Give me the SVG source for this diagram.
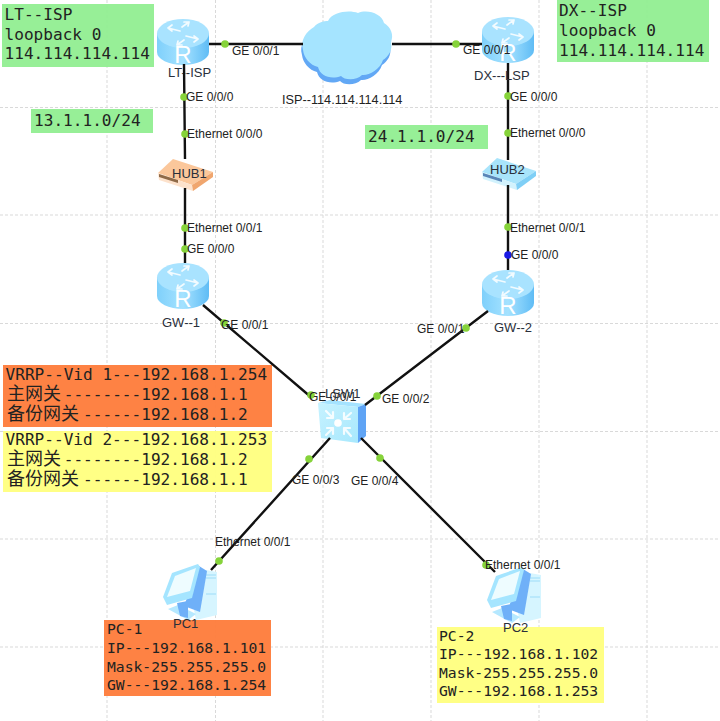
<svg xmlns="http://www.w3.org/2000/svg" xmlns:xlink="http://www.w3.org/1999/xlink" width="720" height="721" viewBox="0 0 720 721">
<style>
.grid{stroke:#d9d9d9;stroke-width:1;stroke-dasharray:3 2;fill:none}
.link{stroke:#111;stroke-width:2.4;fill:none}
.dot{fill:#86d33a}
.blue{fill:#1a1ae6}
.lbl{font-family:"Liberation Sans",Arial,sans-serif;font-size:12px;fill:#222}
.name{font-family:"Liberation Sans",Arial,sans-serif;font-size:13px;fill:#2a2f3a}
.mono{font-family:"DejaVu Sans Mono","Liberation Mono","Noto Sans CJK SC",monospace;font-size:16.1px;fill:#222}
.small{font-size:14.7px}
.cjk{font-family:"Noto Sans CJK SC","DejaVu Sans",sans-serif;font-size:18px}
.green{fill:#90ee90}
.orange{fill:#fe7d3c}
.yellow{fill:#ffff80}
.arrow{stroke:#fff;stroke-width:1.7;fill:none;stroke-linecap:round;stroke-linejoin:round;opacity:.85}
</style>
<defs>
<linearGradient id="side" x1="0" x2="1" y1="0" y2="0">
<stop offset="0" stop-color="#7fd0fb"/><stop offset=".5" stop-color="#a5e2ff"/><stop offset="1" stop-color="#5fbcf5"/>
</linearGradient>
<linearGradient id="face" x1="0" x2="1" y1="0" y2="1">
<stop offset="0" stop-color="#c6f2ff"/><stop offset="1" stop-color="#a8e8fd"/>
</linearGradient>
<g id="router">
<path d="M-26 14V33A26 13 0 0 0 26 33V14Z" fill="url(#side)"/>
<ellipse cx="0" cy="14.500" rx="26" ry="14.500" fill="#a9e3ff"/>
<path class="arrow" d="M-3 12L-15 9M-15 9L-11 6M-15 9L-11 12M3 17L15 20M15 20L11 17M15 20L11 23M-1 8L6 3M6 3L1 3M6 3L5 7M1 21L-6 26M-6 26L-1 26M-6 26L-5 22"/>
<text x="0" y="43.500" text-anchor="middle" font-family="Liberation Sans, sans-serif" font-size="24" fill="#fff">R</text>
</g>
<g id="pc">
<polygon points="200,569 217,572 217,615 196,620 192,600" fill="#d6f5ff"/>
<path d="M206 575H216M206 578H216M206 594H216" stroke="#9ddcf8" stroke-width="1" fill="none"/>
<polygon points="199,566 207,571 200,612 184,606" fill="#6fb0f8"/>
<polygon points="163,597 172,573 198,564 200,567 192,598 167,605" fill="#a5e5ff"/>
<polygon points="167,597 175,576 196,568 190,591" fill="#eefcff"/>
<polygon points="168,609 178,605 196,614 188,620" fill="#b5e8ff"/>
<polygon points="177,603 188,601 188,618 180,616" fill="#6fb0f8"/>
</g>
</defs>
<rect width="720" height="721" fill="#fff"/>
<g id="grid">
<path class="grid" d="M107 0V721M215.500 0V721M323 0V721M431 0V721M539 0V721M647 0V721M0 107.500H720M0 215H720M0 323.500H720M0 431.500H720M0 539H720M0 647H720"/>
</g>
<g id="notes">
<g id="note-lt"><rect class="green" x="2" y="4" width="152" height="63" fill-opacity=".94"/>
<text class="mono"><tspan x="4.500" y="20">LT--ISP</tspan><tspan x="4.500" y="39.500">loopback 0</tspan><tspan x="4.500" y="59">114.114.114.114</tspan></text></g>
<g id="note-13"><rect class="green" x="31" y="109" width="122" height="24" fill-opacity=".94"/>
<text class="mono" x="34" y="126">13.1.1.0/24</text></g>
<g id="note-dx"><rect class="green" x="557" y="0" width="152" height="62" fill-opacity=".94"/>
<text class="mono"><tspan x="559" y="16">DX--ISP</tspan><tspan x="559" y="35.500">loopback 0</tspan><tspan x="559" y="55.500">114.114.114.114</tspan></text></g>
<g id="note-24"><rect class="green" x="365" y="125" width="123" height="24" fill-opacity=".94"/>
<text class="mono" x="368" y="142">24.1.1.0/24</text></g>
<g id="note-vrrp1"><rect class="orange" x="3" y="365" width="269" height="62" fill-opacity=".96"/>
<text class="mono"><tspan x="5.500" y="380">VRRP--Vid 1---192.168.1.254</tspan></text>
<text class="mono" y="400"><tspan class="cjk" x="7" y="400">主网关</tspan><tspan x="63.700" y="400">--------192.168.1.1</tspan></text>
<text class="mono" y="420"><tspan class="cjk" x="7" y="420">备份网关</tspan><tspan x="83.100" y="420">------192.168.1.2</tspan></text></g>
<g id="note-vrrp2"><rect class="yellow" x="3" y="431" width="269" height="61" fill-opacity=".96"/>
<text class="mono"><tspan x="5.500" y="445">VRRP--Vid 2---192.168.1.253</tspan></text>
<text class="mono" y="465"><tspan class="cjk" x="7" y="465">主网关</tspan><tspan x="63.700" y="465">--------192.168.1.2</tspan></text>
<text class="mono" y="485"><tspan class="cjk" x="7" y="485">备份网关</tspan><tspan x="83.100" y="485">------192.168.1.1</tspan></text></g>
</g>
<g id="node-cloud">
<path transform="translate(-1,5)" fill="#62a8f5" d="M303 50C300 40 306 32 314 27C318 22 324 21 328 21C333 11 350 10 358 13C368 9 382 14 384 23C391 27 394 35 391 42C393 50 388 57 383 60C380 70 368 76 362 75C356 81 344 80 341 76C331 80 320 76 318 67C310 65 304 58 303 50Z"/>
<path fill="#a5e4ff" d="M303 50C300 40 306 32 314 27C318 22 324 21 328 21C333 11 350 10 358 13C368 9 382 14 384 23C391 27 394 35 391 42C393 50 388 57 383 60C380 70 368 76 362 75C356 81 344 80 341 76C331 80 320 76 318 67C310 65 304 58 303 50Z"/>
<text class="lbl" x="282" y="104" style="font-size:12.7px">ISP--114.114.114.114</text>
</g>
<g id="node-lt-isp"><use href="#router" xlink:href="#router" transform="translate(183,19)"/>
<text class="name" x="168" y="77">LT--ISP</text></g>
<g id="node-dx-isp"><use href="#router" xlink:href="#router" transform="translate(508,17)"/></g>
<g id="node-gw1"><use href="#router" xlink:href="#router" transform="translate(183,263)"/>
<text class="name" x="162" y="327">GW--1</text></g>
<g id="node-gw2"><use href="#router" xlink:href="#router" transform="translate(508,270)"/>
<text class="name" x="494" y="332">GW--2</text></g>
<g id="node-hub1">
<polygon points="158,173 173,159 213,172 192,185" fill="#fbc79b"/>
<polygon points="158,173 192,185 193,191 159,180" fill="#fde2cc"/>
<polygon points="192,185 213,172 213,177 193,191" fill="#f0a66e"/>
<polygon points="159,174 178,180 178,183 159,177" fill="#8f6a48"/>
</g>
<g id="node-hub2">
<polygon points="482,172 497,158 536,171 516,184" fill="#a8e4fb"/>
<polygon points="482,172 516,184 517,190 483,179" fill="#d2f2fd"/>
<polygon points="516,184 536,171 536,176 517,190" fill="#7fcff6"/>
<polygon points="483,173 502,179 502,182 483,176" fill="#5a86b8"/>
</g>
<g id="node-lsw1">
<polygon points="318,403 330,400 366,404 358,407" fill="#a5e3ff"/>
<polygon points="358,407 366,404 366,436 358,443" fill="#5fa4f5"/>
<polygon points="318,403 358,407 358,443 321,438" fill="url(#face)"/>
<circle cx="338" cy="423" r="3.800" fill="#fff"/>
<path class="arrow" d="M326 411L333 418M333 418L333 412M333 418L327 418M351 413L344 419M344 419L344 413M344 419L350 419M326 435L333 428M333 428L333 434M333 428L327 428M351 436L344 428M344 428L344 434M344 428L350 428" style="stroke-width:2.200"/>
</g>
<g id="node-pc1"><use href="#pc" xlink:href="#pc"/></g>
<g id="node-pc2"><use href="#pc" xlink:href="#pc" transform="translate(324,3)"/></g>
<g id="note-pc1"><rect class="orange" x="104" y="620" width="167" height="76" fill-opacity=".96"/>
<text class="mono small"><tspan x="107" y="634">PC-1</tspan><tspan x="107" y="653">IP---192.168.1.101</tspan><tspan x="107" y="672">Mask-255.255.255.0</tspan><tspan x="107" y="690">GW---192.168.1.254</tspan></text></g>
<g id="note-pc2"><rect class="yellow" x="437" y="627" width="167" height="76" fill-opacity=".96"/>
<text class="mono small"><tspan x="439" y="641">PC-2</tspan><tspan x="439" y="659">IP---192.168.1.102</tspan><tspan x="439" y="678">Mask-255.255.255.0</tspan><tspan x="439" y="696">GW---192.168.1.253</tspan></text></g>
<g id="connectors">
<path class="link" d="M209 44H303M392 44H482M184 64L185 159M185 188V263M508 63V160M508 185V270M203 305L312 398M488 311L365 405M330 438L211 570M361 438L495 572"/>
<g class="dot">
<circle cx="225" cy="44" r="3.800"/><circle cx="456" cy="44" r="3.800"/>
<circle cx="184" cy="97" r="3.800"/><circle cx="185" cy="134" r="3.800"/><circle cx="185" cy="228" r="3.800"/><circle cx="185" cy="249" r="3.800"/>
<circle cx="508" cy="96" r="3.800"/><circle cx="508" cy="133" r="3.800"/><circle cx="508" cy="227" r="3.800"/>
<circle cx="224" cy="323" r="3.800"/><circle cx="311" cy="395" r="3.800"/>
<circle cx="466" cy="328" r="3.800"/><circle cx="377" cy="396" r="3.800"/>
<circle cx="309" cy="459" r="3.800"/><circle cx="219" cy="561" r="3.800"/>
<circle cx="380" cy="458" r="3.800"/><circle cx="486" cy="565" r="3.800"/>
</g>
<circle class="blue" cx="508" cy="255" r="3.800"/>
<g class="lbl">
<text x="232" y="55">GE 0/0/1</text>
<text x="186" y="101">GE 0/0/0</text>
<text x="187" y="138">Ethernet 0/0/0</text>
<text x="187" y="232">Ethernet 0/0/1</text>
<text x="187" y="253">GE 0/0/0</text>
<text x="463" y="54">GE 0/0/1</text>
<text x="510" y="101">GE 0/0/0</text>
<text x="510" y="137">Ethernet 0/0/0</text>
<text x="510" y="232">Ethernet 0/0/1</text>
<text x="511" y="259">GE 0/0/0</text>
<text x="221" y="329">GE 0/0/1</text>
<text x="417" y="333">GE 0/0/1</text>
<text x="309" y="401">GE 0/0/1</text>
<text x="382" y="403">GE 0/0/2</text>
<text x="292" y="484">GE 0/0/3</text>
<text x="351" y="485">GE 0/0/4</text>
<text x="215" y="546">Ethernet 0/0/1</text>
<text x="485" y="569">Ethernet 0/0/1</text>
</g>
<g class="name">
<text x="172" y="178">HUB1</text>
<text x="490" y="174">HUB2</text>
<text x="474" y="80">DX---LSP</text>
<text x="325" y="398">LSW1</text>
<text x="173" y="628">PC1</text>
<text x="503" y="632">PC2</text>
</g>
</g>
</svg>
